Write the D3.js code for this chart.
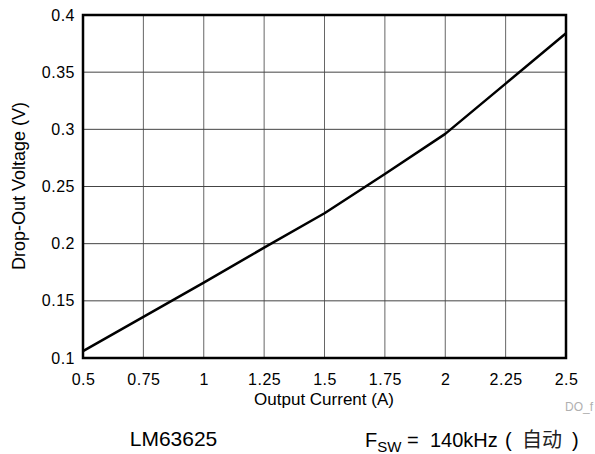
<!DOCTYPE html>
<html><head><meta charset="utf-8">
<script src="https://cdn.jsdelivr.net/npm/d3@7"></script>
<style>body{margin:0;background:#fff}svg{display:block}text{font-family:"Liberation Sans",Arial,Helvetica,sans-serif}</style>
</head><body>
<script>
const current = [0.5, 0.75, 1.0, 1.25, 1.5, 1.75, 2.0, 2.25, 2.5];
const dropout = [0.106, 0.136, 0.166, 0.1965, 0.2266, 0.261, 0.296, 0.340, 0.384];
const xTicks = [0.5, 0.75, 1, 1.25, 1.5, 1.75, 2, 2.25, 2.5];
const xTickLabels = ["0.5", "0.75", "1", "1.25", "1.5", "1.75", "2", "2.25", "2.5"];
const yTicks = [0.1, 0.15, 0.2, 0.25, 0.3, 0.35, 0.4];
const yTickLabels = ["0.1", "0.15", "0.2", "0.25", "0.3", "0.35", "0.4"];

const W = 595, H = 454;
const L = 83, R = 566, T = 15, B = 358;
const svg = d3.select("body").append("svg").attr("width", W).attr("height", H);
const x = d3.scaleLinear().domain([0.5, 2.5]).range([L, R]);
const y = d3.scaleLinear().domain([0.1, 0.4]).range([B, T]);
const ff = '"Liberation Sans",Arial,sans-serif';

// grid
svg.append("g").selectAll("line").data(xTicks).join("line")
  .attr("x1", d => x(d)).attr("x2", d => x(d)).attr("y1", T).attr("y2", B)
  .attr("stroke", "#666").attr("stroke-width", 1);
svg.append("g").selectAll("line").data(yTicks).join("line")
  .attr("y1", d => y(d)).attr("y2", d => y(d)).attr("x1", L).attr("x2", R)
  .attr("stroke", "#444").attr("stroke-width", 1);

// axes (labels only)
const xAxis = d3.axisBottom(x).tickValues(xTicks).tickSize(0).tickPadding(0)
  .tickFormat((d, i) => xTickLabels[i]);
const gx = svg.append("g").attr("transform", `translate(0,${B})`).call(xAxis);
gx.select(".domain").remove();
gx.selectAll("text").attr("y", 27).attr("dy", null).attr("font-size", 16)
  .attr("letter-spacing", 0.5).attr("fill", "#000").style("font-family", ff);

const yAxis = d3.axisLeft(y).tickValues(yTicks).tickSize(0).tickPadding(8)
  .tickFormat((d, i) => yTickLabels[i]);
const gy = svg.append("g").attr("transform", `translate(${L},0)`).call(yAxis);
gy.select(".domain").remove();
gy.selectAll("text").attr("font-size", 16).attr("letter-spacing", 0.5)
  .attr("fill", "#000").style("font-family", ff);

// line
svg.append("path").datum(current.map((c, i) => [c, dropout[i]]))
  .attr("d", d3.line().x(d => x(d[0])).y(d => y(d[1])))
  .attr("fill", "none").attr("stroke", "#000").attr("stroke-width", 2.5)
  .attr("stroke-linejoin", "round");

// frame
svg.append("rect").attr("x", L).attr("y", T).attr("width", R - L).attr("height", B - T)
  .attr("fill", "none").attr("stroke", "#000").attr("stroke-width", 2.5);

// titles
svg.append("text").attr("x", 324).attr("y", 404.5).attr("text-anchor", "middle")
  .attr("font-size", 17).text("Output Current (A)");
svg.append("text").attr("transform", `translate(25,186) rotate(-90)`)
  .attr("text-anchor", "middle").attr("font-size", 18).text("Drop-Out Voltage (V)");
svg.append("text").attr("x", 593).attr("y", 411).attr("text-anchor", "end")
  .attr("font-size", 12).attr("fill", "#b0b0b0").text("DO_f");
svg.append("text").attr("x", 173.5).attr("y", 446).attr("text-anchor", "middle")
  .attr("font-size", 21).text("LM63625");
const f = svg.append("text").attr("y", 447).attr("font-size", 20);
f.append("tspan").attr("x", 365).text("F");
f.append("tspan").attr("font-size", 15).attr("dy", 4.5).text("SW");
f.append("tspan").attr("x", 407).attr("dy", -4.5).text("=");
f.append("tspan").attr("x", 430).text("140kHz");
f.append("tspan").attr("x", 505).text("(");
f.append("tspan").attr("x", 522).attr("fill", "#222")
  .style("font-family", '"Noto Sans CJK SC",sans-serif').attr("font-size", 20).text("自动");
f.append("tspan").attr("x", 572).text(")");
</script>
</body></html>
